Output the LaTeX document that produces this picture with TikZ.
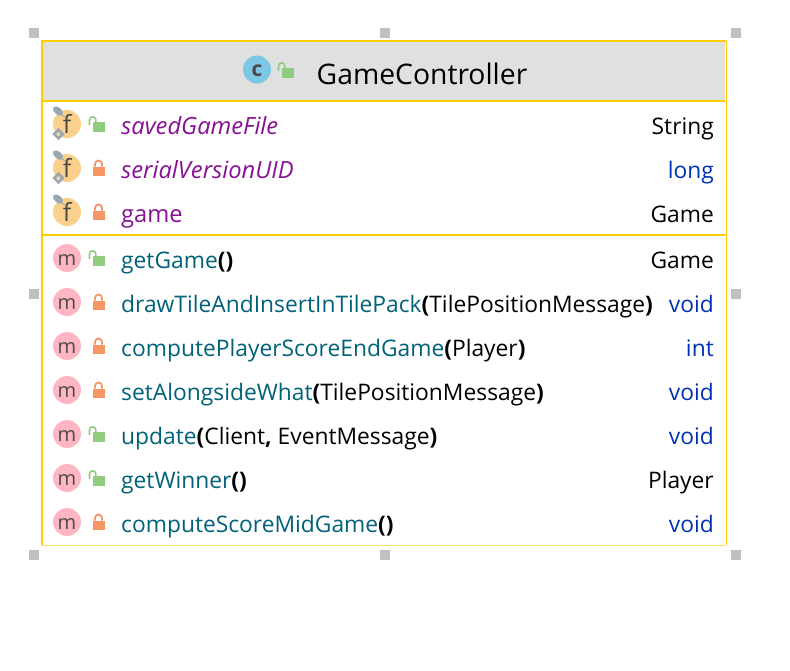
\documentclass[tikz,border=0pt]{standalone}
\usepackage{fontspec}
\setmainfont{Open Sans}
\definecolor{frameY}{HTML}{FFCC00}
\definecolor{headG}{HTML}{E0E0E0}
\definecolor{fieldP}{HTML}{871094}
\definecolor{methT}{HTML}{00627A}
\definecolor{kwB}{HTML}{0033B3}
\definecolor{iconC}{HTML}{7CC7E3}
\definecolor{iconF}{HTML}{FBD08C}
\definecolor{iconM}{HTML}{FFB6C4}
\definecolor{lockO}{HTML}{90CB7E}
\definecolor{lockC}{HTML}{F79665}
\definecolor{pinG}{HTML}{9AA7B0}
\definecolor{handleG}{HTML}{C0C0C0}
\definecolor{glyphD}{HTML}{4A4A4A}
\newcommand{\bp}[1]{\textbf{#1}}
\newcommand{\gm}{\raisebox{-7pt}[0pt][0pt]{\fontsize{20}{21}\selectfont m}}
\newcommand{\gf}{\raisebox{-9.5pt}[0pt][0pt]{\fontsize{25}{26}\selectfont f}}
\newcommand{\gc}{\raisebox{-7pt}[0pt][0pt]{\fontsize{21}{22}\selectfont\bfseries c}}
\tikzset{
  rowtext/.style={anchor=base west,inner sep=0pt,font=\fontsize{22.8}{24}\selectfont},
  fieldtext/.style={anchor=base west,inner sep=0pt,text=fieldP,font=\fontsize{23.7}{24}\selectfont},
  righttext/.style={anchor=base east,inner sep=0pt,font=\fontsize{22.8}{24}\selectfont},
  badge/.style={circle,minimum size=28pt,inner sep=0pt,text=glyphD},
  handle/.style={fill=handleG,minimum size=10pt,inner sep=0pt,draw=none,rectangle},
}
\newcommand{\openlock}[2]{%
  \fill[lockO] (#1-5,#2-2) rectangle (#1+7,#2+8);
  \draw[lockO,line width=1.6pt] (#1-8.5,#2+1) -- (#1-8.5,#2-4) arc[start angle=180,end angle=360,radius=3.2] -- (#1-2.1,#2-2);
}
\newcommand{\closedlock}[2]{%
  \fill[lockC] (#1-5.5,#2-1.5) rectangle (#1+6.5,#2+8);
  \draw[lockC,line width=1.8pt] (#1-3,#2-1.5) -- (#1-3,#2-4) arc[start angle=180,end angle=360,radius=3.5] -- (#1+4,#2-1.5);
}
\newcommand{\pintop}[2]{%
  \fill[pinG,rotate around={-40:(#1-9,#2-13)}] (#1-9,#2-13) ellipse[x radius=6,y radius=3.4];
  \draw[pinG,line width=.8pt] (#1-6,#2-10) -- (#1-2,#2-7);
}
\newcommand{\pinbot}[2]{%
  \draw[pinG,line width=2.8pt,rotate around={45:(#1-8.5,#2+10)}] (#1-11.5,#2+7) rectangle (#1-5.5,#2+13);
}
\begin{document}
\begin{tikzpicture}[x=1pt,y=-1pt]
\useasboundingbox (0,0) rectangle (790,670);
\fill[white] (0,0) rectangle (790,670);
% handles
\node[handle] (h1) at (34,33) {};
\node[handle] (h2) at (385,33) {};
\node[handle] (h3) at (736,33) {};
\node[handle] (h4) at (34,294) {};
\node[handle] (h5) at (736,294) {};
\node[handle] (h6) at (34,555) {};
\node[handle] (h7) at (385,555) {};
\node[handle] (h8) at (736,555) {};
% frame
\fill[headG] (42,42) rectangle (725,100);
\draw[frameY,line width=1pt] (726,41) -- (726,545);
\draw[frameY!60!white,line width=1pt] (42,545.5) -- (726,545.5);
\draw[frameY,line width=1.6pt] (42,545) -- (42,41) -- (726,41);
\draw[frameY,line width=2pt] (42,101) -- (725,101);
\draw[frameY,line width=2pt] (42,235) -- (725,235);
% header
\node[badge,fill=iconC] (cC) at (257,69.5) {\gc};
\openlock{287}{70}
\node[anchor=base,inner sep=0pt,font=\fontsize{28.3}{30}\selectfont] (title) at (422,84) {GameController};
% fields
\node[badge,fill=iconF] (f1) at (67,124) {\gf};
\pintop{67}{124}\pinbot{67}{124}\openlock{98}{124}
\node[fieldtext] (n1) at (121,134.5) {\itshape savedGameFile};
\node[righttext] (t1) at (714,134) {String};
\node[badge,fill=iconF] (f2) at (67,168) {\gf};
\pintop{67}{168}\pinbot{67}{168}\closedlock{98}{168}
\node[fieldtext] (n2) at (121,178.5) {\itshape serialVersionUID};
\node[righttext,text=kwB] (t2) at (714,178) {long};
\node[badge,fill=iconF] (f3) at (67,212) {\gf};
\pintop{67}{212}\closedlock{98}{212}
\node[fieldtext] (n3) at (121,222) {game};
\node[righttext] (t3) at (714,222) {Game};
% methods
\node[badge,fill=iconM] (m1) at (67,258) {\gm};\openlock{98}{258}
\node[rowtext] (n4) at (121,268) {\textcolor{methT}{getGame}\bp{()}};
\node[righttext] (t4) at (714,268) {Game};
\node[badge,fill=iconM] (m2) at (67,302) {\gm};\closedlock{98}{302}
\node[rowtext] (n5) at (121,312) {\textcolor{methT}{drawTileAndInsertInTilePack}\bp{(}TilePositionMessage\bp{)}};
\node[righttext,text=kwB] (t5) at (714,312) {void};
\node[badge,fill=iconM] (m3) at (67,346) {\gm};\closedlock{98}{346}
\node[rowtext] (n6) at (121,356) {\textcolor{methT}{computePlayerScoreEndGame}\bp{(}Player\bp{)}};
\node[righttext,text=kwB] (t6) at (714,356) {int};
\node[badge,fill=iconM] (m4) at (67,390) {\gm};\closedlock{98}{390}
\node[rowtext] (n7) at (121,400) {\textcolor{methT}{setAlongsideWhat}\bp{(}TilePositionMessage\bp{)}};
\node[righttext,text=kwB] (t7) at (714,400) {void};
\node[badge,fill=iconM] (m5) at (67,434) {\gm};\openlock{98}{434}
\node[rowtext] (n8) at (121,444) {\textcolor{methT}{update}\bp{(}Client\bp{,} EventMessage\bp{)}};
\node[righttext,text=kwB] (t8) at (714,444) {void};
\node[badge,fill=iconM] (m6) at (67,478) {\gm};\openlock{98}{478}
\node[rowtext] (n9) at (121,488) {\textcolor{methT}{getWinner}\bp{()}};
\node[righttext] (t9) at (714,488) {Player};
\node[badge,fill=iconM] (m7) at (67,522) {\gm};\closedlock{98}{522}
\node[rowtext] (n10) at (121,532) {\textcolor{methT}{computeScoreMidGame}\bp{()}};
\node[righttext,text=kwB] (t10) at (714,532) {void};
\end{tikzpicture}
\end{document}
